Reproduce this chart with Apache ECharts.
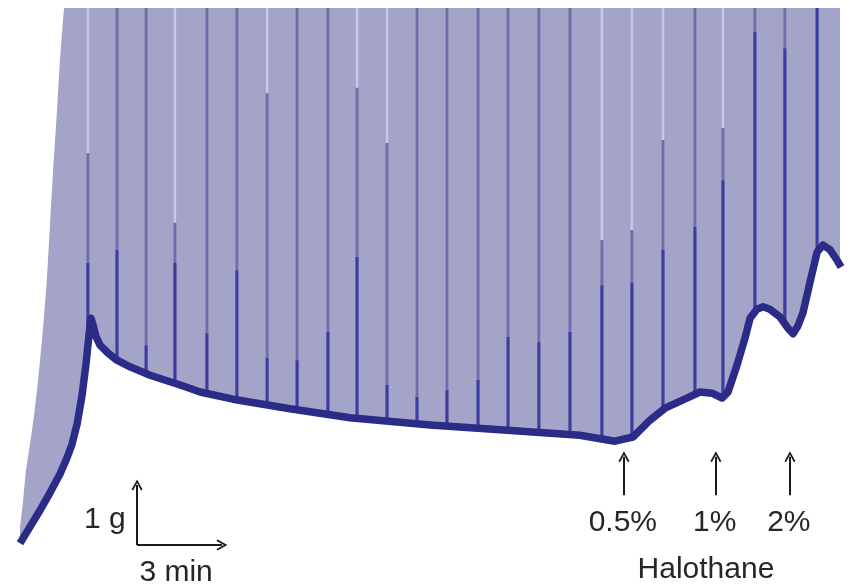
<!DOCTYPE html>
<html>
<head>
<meta charset="utf-8">
<script src="https://cdn.jsdelivr.net/npm/echarts@6/dist/echarts.min.js"></script>
<style>
  html, body { margin: 0; padding: 0; background: #fff; }
  #chartBox { width: 850px; height: 584px; }
</style>
</head>
<body>
<div id="chartBox"></div>
<script>
// baseline tension trace (time in min, tension in g)
var traceT = [0, 0.35, 0.71, 1.06, 1.41, 1.66, 1.84, 2.02, 2.19, 2.33, 2.44, 2.51, 2.58, 2.69, 2.83, 3.11, 3.43, 3.89, 4.60, 5.77, 6.37, 7.53, 9.55, 11.67, 14.50, 16.98, 19.80, 21.04, 21.68, 22.28, 22.81, 23.45, 24.05, 24.47, 24.83, 25.04, 25.36, 25.64, 25.82, 26.06, 26.28, 26.52, 26.88, 27.13, 27.34, 27.51, 27.69, 27.94, 28.19, 28.40, 28.65, 28.89, 29.04];
var traceG = [0.08, 0.35, 0.63, 0.92, 1.23, 1.50, 1.73, 2.07, 2.53, 3.05, 3.55, 3.83, 3.72, 3.52, 3.38, 3.25, 3.13, 3.02, 2.88, 2.70, 2.60, 2.48, 2.32, 2.17, 2.05, 1.97, 1.88, 1.78, 1.85, 2.13, 2.33, 2.47, 2.60, 2.58, 2.50, 2.60, 3.05, 3.50, 3.83, 3.98, 4.02, 3.98, 3.85, 3.68, 3.57, 3.70, 3.92, 4.43, 4.93, 5.05, 4.97, 4.80, 4.68];

// upper envelope of the twitches (runs off the top of the record)
var envT = [0, 0.11, 0.21, 0.35, 0.50, 0.64, 0.81, 0.95, 1.06, 1.17, 1.31, 1.41, 1.52, 1.56, 29.04];
var envG = [0.33, 0.80, 1.30, 1.72, 2.22, 2.80, 3.63, 4.47, 5.38, 6.30, 7.30, 8.13, 8.80, 9.00, 9.00];

// vertical spikes: time, top of dark part, bottom of pale part (0 = none)
var spikeT = [2.40, 3.43, 4.46, 5.48, 6.61, 7.67, 8.74, 9.80, 10.89, 11.92, 12.98, 14.04, 15.10, 16.20, 17.26, 18.35, 19.45, 20.58, 21.64, 22.74, 23.87, 24.86, 25.99, 27.05, 28.19];
var spikeDark = [4.75, 4.97, 3.38, 4.75, 3.58, 4.63, 3.17, 3.13, 3.60, 4.85, 2.72, 2.52, 2.63, 2.80, 3.52, 3.43, 3.60, 4.38, 4.42, 4.97, 5.35, 6.13, 8.60, 8.33, 9.00];
var spikePale = [6.58, 0, 0, 5.42, 0, 0, 7.58, 0, 0, 7.67, 6.75, 0, 0, 0, 0, 0, 0, 5.13, 5.30, 6.80, 0, 7.00, 0, 0, 0];

// halothane additions
var doseT = [21.36, 24.61, 27.23];
var doseLabels = ['0.5%', '1%', '2%'];

var Y_TOP = 9;
var fillColor = '#a4a4c9';
var traceColor = '#2b2b88';
var textColor = '#262626';
var fontName = '"Liberation Sans", Arial, sans-serif';
var chevron = 'path://M5,0 L10,9 L8.6,10 L5,3.2 L1.4,10 L0,9 Z';

function pairs(xs, ys) {
	var out = [];
	for (var i = 0; i < xs.length; i++) { out.push([xs[i], ys[i]]); }
	return out;
}

var spikeData = [];
for (var i = 0; i < spikeT.length; i++) {
	spikeData.push([spikeT[i], spikeDark[i], spikePale[i]]);
}

// arrows drawn in data units (scale bar: 1 g and 3 min)
var arrowData = [
	{ coords: [[4.14, 0.05], [4.14, 1.05]] },
	{ coords: [[4.14, 0.05], [7.14, 0.05]] }
];
for (var d = 0; d < doseT.length; d++) {
	arrowData.push({ coords: [[doseT[d], 0.88], [doseT[d], 1.52]] });
}

var textData = [
	{ name: '1 g', value: [3.0, 0.47] },
	{ name: '3 min', value: [5.52, -0.42] },
	{ name: 'Halothane', value: [24.26, -0.37] }
];
for (var k = 0; k < doseT.length; k++) {
	textData.push({ name: doseLabels[k], value: [doseT[k] - 0.04, 0.42] });
}

var myChart = echarts.init(document.getElementById('chartBox'));
var option = {
	backgroundColor: '#ffffff',
	animation: false,
	grid: { left: 20, right: 10, top: 8, bottom: 0 },
	xAxis: { type: 'value', min: 0, max: 29, show: false },
	yAxis: { type: 'value', min: -0.6, max: Y_TOP, show: false },
	series: [
		{
			// lavender band of twitches
			type: 'line',
			data: pairs(envT, envG),
			symbol: 'none',
			lineStyle: { width: 0 },
			areaStyle: { color: fillColor, opacity: 1, origin: 'start' },
			z: 1
		},
		{
			type: 'custom',
			data: spikeData,
			z: 2,
			renderItem: function (params, api) {
				var t = api.value(0), dark = api.value(1), pale = api.value(2);
				var top = api.coord([t, Y_TOP]);
				var mid = api.coord([t, dark]);
				var bot = api.coord([t, 0]);
				var kids = [];
				var from = top;
				if (pale > 0) {
					var p = api.coord([t, pale]);
					kids.push({ type: 'line', shape: { x1: top[0], y1: top[1], x2: p[0], y2: p[1] }, style: { stroke: '#c7c8e5', lineWidth: 2.5 } });
					from = p;
				}
				kids.push({ type: 'line', shape: { x1: from[0], y1: from[1], x2: mid[0], y2: mid[1] }, style: { stroke: '#6e6eaa', lineWidth: 2.8 } });
				kids.push({ type: 'line', shape: { x1: mid[0], y1: mid[1], x2: bot[0], y2: bot[1] }, style: { stroke: '#3d3da0', lineWidth: 3.2 } });
				return { type: 'group', children: kids };
			}
		},
		{
			// baseline trace, white below it
			type: 'line',
			data: pairs(traceT, traceG),
			symbol: 'none',
			lineStyle: { color: traceColor, width: 7.5, join: 'round' },
			areaStyle: { color: '#ffffff', opacity: 1, origin: 'start' },
			z: 3
		},
		{
			type: 'lines',
			coordinateSystem: 'cartesian2d',
			data: arrowData,
			symbol: ['none', chevron],
			symbolSize: [12, 11],
			lineStyle: { color: '#1a1a1a', width: 2, opacity: 1 },
			z: 5
		},
		{
			type: 'scatter',
			data: textData,
			symbolSize: 0,
			itemStyle: { opacity: 1 },
			label: {
				show: true,
				position: 'inside',
				formatter: '{b}',
				fontSize: 30,
				color: textColor,
				opacity: 1,
				fontFamily: fontName
			},
			z: 6
		}
	]
};
myChart.setOption(option);
</script>
</body>
</html>
